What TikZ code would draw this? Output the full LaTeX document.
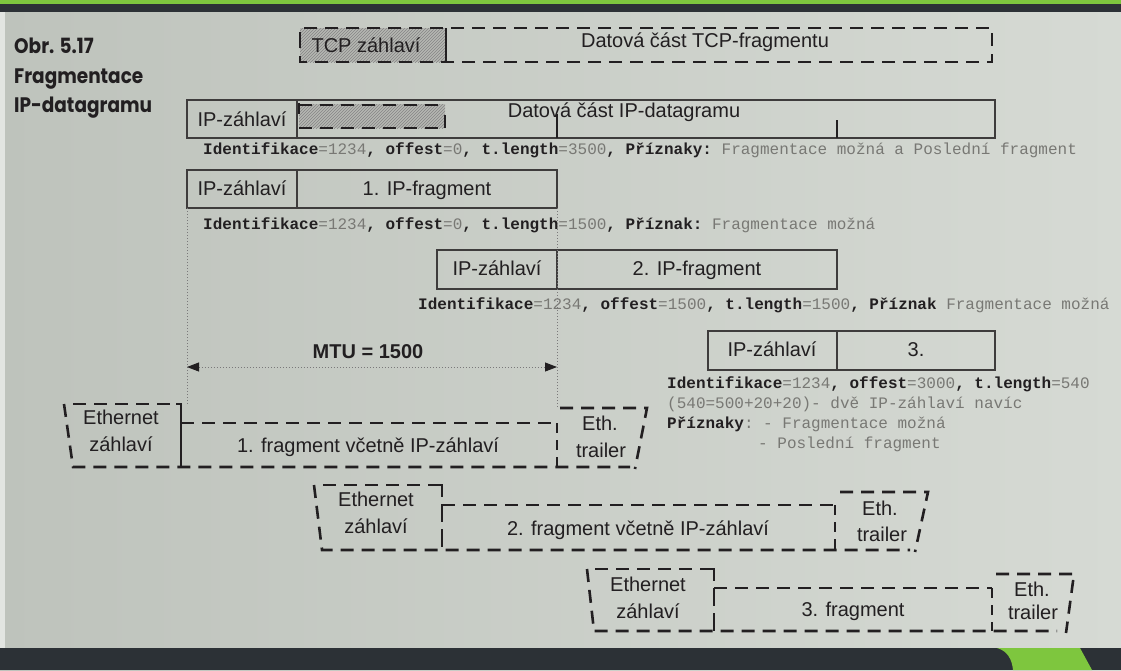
\documentclass[tikz,border=0pt]{standalone}
\usepackage{fontspec}
\setmainfont{Liberation Sans}
\setmonofont{Liberation Mono}
\newfontfamily\titlefont{Poppins}
\usetikzlibrary{arrows.meta,patterns}

\definecolor{ink}{RGB}{34,31,33}
\definecolor{boxln}{RGB}{62,60,60}
\definecolor{valgray}{RGB}{120,120,116}
\definecolor{pageL}{RGB}{190,195,188}
\definecolor{pageR}{RGB}{214,218,212}
\definecolor{stripc}{RGB}{226,229,225}
\definecolor{barDark}{RGB}{44,49,54}
\definecolor{barGreen}{RGB}{126,198,62}
\definecolor{hatchc}{RGB}{182,184,178}

% keyword in bold, value in grey
\newcommand\kw[1]{\textbf{#1}}
\newcommand\vl[1]{\textcolor{valgray}{#1}}
% narrowed caption lettering
\newcommand\ttltext[1]{\scalebox{0.88}[1]{#1}}

\begin{document}
\begin{tikzpicture}[x=1pt,y=-1pt,
  >={Triangle[length=12pt,width=9pt,color=ink]},
  dsh/.style={draw=ink, line width=2.6pt, dash pattern=on 13pt off 8pt},
  dshs/.style={draw=ink, line width=2.6pt, dash pattern=on 10pt off 7pt},
  dshl/.style={draw=ink, line width=2.6pt, dash pattern=on 18pt off 7pt},
  brk/.style={draw=ink, line width=2.6pt},
  ipbox/.style={draw=boxln, line width=1.3pt},
  guide/.style={draw=ink!60, line width=0.9pt, dash pattern=on 1pt off 2pt},
  sans/.style={inner sep=0pt, text=ink, font=\fontsize{20}{23}\selectfont, text height=14pt, text depth=2pt},
  mtu/.style={sans, font=\bfseries\fontsize{20}{23}\selectfont},
  mono/.style={inner sep=0pt, anchor=west, text=ink, font=\ttfamily\fontsize{16}{18}\selectfont, text height=10pt, text depth=1pt},
  ttl/.style={inner sep=0pt, anchor=west, text=ink, font=\titlefont\bfseries\fontsize{21}{25}\selectfont, text height=15pt, text depth=2pt}
]
\useasboundingbox (0,0) rectangle (1121,670);

% page background and slide bars
\shade[left color=pageL, right color=pageR] (0,0) rectangle (1121,670);
\fill[stripc] (0,12) rectangle (5,648);
\fill[barGreen] (0,0) rectangle (1121,3.5);
\fill[barDark] (0,3.5) rectangle (1121,12);
\fill[barDark] (0,648) rectangle (1121,670);
\fill[barGreen] (997,648) .. controls (1008,651) and (1012,660) .. (1013,670) -- (1092,670) -- (1080,648) -- cycle;

% caption
\node[ttl] (obr) at (14,47) {\ttltext{Obr. 5.17}};
\node[ttl] (frg) at (14,77) {\ttltext{Fragmentace}};
\node[ttl] (ipd) at (14,106) {\ttltext{IP-datagramu}};

% TCP segment
\fill[hatchc] (300,28) rectangle (446,62);
\fill[pattern=north east lines, pattern color=ink!55] (300,28) rectangle (446,62);
\draw[dsh] (300,45) -- (300,28) -- (992,28) -- (992,62) -- (300,62) -- cycle;
\draw[brk] (446,28) -- (446,62) -- (452,62);
\node[sans] (tcph) at (366,46) {TCP záhlaví};
\node[sans] (tcpd) at (705,41) {Datová část TCP-fragmentu};

% IP datagram
\draw[ipbox] (187,100) rectangle (995,138);
\draw[ipbox] (297,100) -- (297,138);
\fill[hatchc] (299,104) rectangle (445,128);
\fill[pattern=north east lines, pattern color=ink!55] (299,104) rectangle (445,128);
\draw[dsh] (299,105) -- (445,105);
\draw[dsh] (299,128) -- (445,128);
\draw[brk] (299,103) -- (299,114);
\draw[brk] (445,115) -- (445,128);
\draw[brk, line width=2pt] (557,114) -- (557,138);
\draw[brk, line width=2pt] (837,120) -- (837,138);
\node[sans] (iph0) at (242,120) {IP-záhlaví};
\node[sans] (ipd0) at (624,111) {Datová část IP-datagramu};
\node[mono] (la) at (203,150) {\kw{Identifikace}\vl{=1234}\kw{, offest}\vl{=0}\kw{, t.length}\vl{=3500}\kw{, Příznaky:} \vl{Fragmentace možná a Poslední fragment}};

% fragment 1
\draw[ipbox] (187,170) rectangle (557,208);
\draw[ipbox] (297,170) -- (297,208);
\node[sans] (iph1) at (242,189) {IP-záhlaví};
\node[sans] (ipf1) at (427,189) {1. IP-fragment};
\node[mono] (lb) at (203,225) {\kw{Identifikace}\vl{=1234}\kw{, offest}\vl{=0}\kw{, t.length}\vl{=1500}\kw{, Příznak:} \vl{Fragmentace možná}};

% fragment 2
\draw[ipbox] (437,250) rectangle (837,289);
\draw[ipbox] (557,250) -- (557,289);
\node[sans] (iph2) at (497,269) {IP-záhlaví};
\node[sans] (ipf2) at (697,269) {2. IP-fragment};
\node[mono] (lc) at (418,305) {\kw{Identifikace}\vl{=1234}\kw{, offest}\vl{=1500}\kw{, t.length}\vl{=1500}\kw{, Příznak} \vl{Fragmentace možná}};

% fragment 3
\draw[ipbox] (708,331) rectangle (995,370);
\draw[ipbox] (837,331) -- (837,370);
\node[sans] (iph3) at (772,350) {IP-záhlaví};
\node[sans] (ipf3) at (916,350) {3.};
\node[mono] (ld1) at (667,384) {\kw{Identifikace}\vl{=1234}\kw{, offest}\vl{=3000}\kw{, t.length}\vl{=540}};
\node[mono] (ld2) at (667,404) {\vl{(540=500+20+20)- dvě IP-záhlaví navíc}};
\node[mono] (ld3) at (667,424) {\kw{Příznaky}\vl{: - Fragmentace možná}};
\node[mono] (ld4) at (758,444) {\vl{- Poslední fragment}};

% MTU
\coordinate (gl0) at (187,208);
\coordinate (gl1) at (187,404);
\coordinate (gr0) at (557,208);
\coordinate (gr1) at (557,408);
\draw[guide] (gl0) -- (gl1);
\draw[guide] (gr0) -- (gr1);
\coordinate (ml) at (187,367);
\coordinate (mr) at (557,367);
\draw[guide, <->] (ml) -- (mr);
\node[mtu] (mtu) at (368,352) {MTU = 1500};

% Ethernet frame 1
\draw[dsh] (73,404) -- (176,404);
\draw[brk] (176,404) -- (181,404) -- (181,467);
\draw[dsh] (64,404) -- (73,467) -- (630,467);
\draw[dsh] (181,423) -- (557,423);
\draw[dshs] (557,423) -- (557,467);
\draw[dsh] (560,408) -- (647,408) -- (635,469);
\node[sans] (e1a) at (121,418) {Ethernet};
\node[sans] (e1b) at (121,445) {záhlaví};
\node[sans] (e1c) at (368,446) {1. fragment včetně IP-záhlaví};
\node[sans] (e1d) at (600,424) {Eth.};
\node[sans] (e1e) at (601,451) {trailer};

% Ethernet frame 2
\draw[dsh] (323,485) -- (436,485);
\draw[dshl] (436,485) -- (442,485) -- (442,550);
\draw[dsh] (314,485) -- (322,550) -- (910,550);
\draw[dsh] (442,505) -- (835,505);
\draw[dshs] (835,505) -- (835,550);
\draw[dsh] (840,492) -- (928,492) -- (915,552);
\node[sans] (e2a) at (376,500) {Ethernet};
\node[sans] (e2b) at (376,527) {záhlaví};
\node[sans] (e2c) at (638,529) {2. fragment včetně IP-záhlaví};
\node[sans] (e2d) at (880,509) {Eth.};
\node[sans] (e2e) at (882,535) {trailer};

% Ethernet frame 3
\draw[dsh] (595,569) -- (708,569);
\draw[dshl] (708,569) -- (714,569) -- (714,631);
\draw[dsh] (587,569) -- (594,631) -- (1057,631);
\draw[dsh] (714,588) -- (992,588);
\draw[dshs] (992,588) -- (992,631);
\draw[dsh] (996,574) -- (1074,574) -- (1066,633);
\node[sans] (e3a) at (648,585) {Ethernet};
\node[sans] (e3b) at (648,612) {záhlaví};
\node[sans] (e3c) at (853,610) {3. fragment};
\node[sans] (e3d) at (1032,590) {Eth.};
\node[sans] (e3e) at (1033,613) {trailer};
\end{tikzpicture}
\end{document}
